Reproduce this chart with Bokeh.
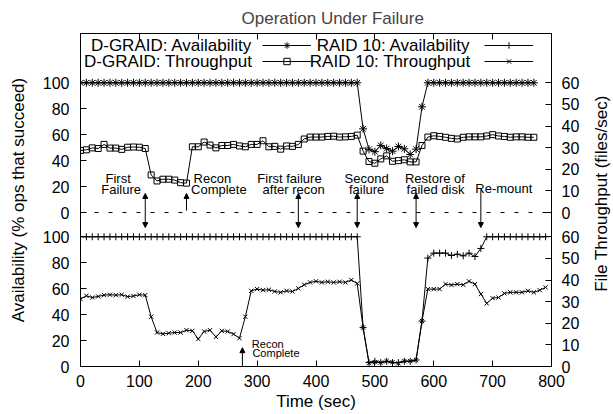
import math
from bokeh.plotting import figure
from bokeh.layouts import row
from bokeh.models import (Range1d, LinearAxis, FixedTicker, CustomJSTickFormatter,
                          Span, Arrow, NormalHead, Label, Legend, LegendItem)
from bokeh.core.properties import value
from bokeh.embed import file_html
from bokeh.resources import INLINE

# ---------------- data ----------------
time_dgraid = [0, 10, 20, 30, 40, 50, 60, 70, 80, 90, 100, 110, 120, 130, 140, 150, 160, 170, 180, 190,
               200, 210, 220, 230, 240, 250, 260, 270, 280, 290, 300, 310, 320, 330, 340, 350, 360, 370, 380, 390,
               400, 410, 420, 430, 440, 450, 460, 470, 480, 490, 500, 510, 520, 530, 540, 550, 560, 570, 580, 590,
               600, 610, 620, 630, 640, 650, 660, 670, 680, 690, 700, 710, 720, 730, 740, 750, 760, 770]
dgraid_availability = [100, 100, 100, 100, 100, 100, 100, 100, 100, 100, 100, 100, 100, 100, 100, 100, 100, 100, 100, 100,
                       100, 100, 100, 100, 100, 100, 100, 100, 100, 100, 100, 100, 100, 100, 100, 100, 100, 100, 100, 100,
                       100, 100, 100, 100, 100, 100, 100, 100, 64.5, 48.7, 46.9, 51.7, 49.3, 47.3, 50.9, 49.1, 44.7, 48.8, 81.5, 100,
                       100, 100, 100, 100, 100, 100, 100, 100, 100, 100, 100, 100, 100, 100, 100, 100, 100, 100]
dgraid_throughput = [28.7, 29.0, 29.9, 29.6, 31.5, 29.8, 29.8, 29.2, 30.2, 30.3, 30.2, 29.6, 17.4, 14.6, 15.4, 15.4, 15.0, 13.8, 13.6, 30.4,
                     30.4, 32.6, 31.2, 29.9, 31.0, 31.0, 31.5, 30.8, 30.4, 31.5, 31.5, 33.2, 30.4, 30.6, 29.3, 30.8, 30.6, 31.5, 34.0, 34.9,
                     34.9, 34.9, 35.2, 35.3, 34.9, 35.0, 35.2, 35.8, 28.4, 23.6, 22.8, 24.8, 26.2, 23.7, 24.0, 24.4, 23.4, 23.4, 31.0, 34.9,
                     35.5, 35.2, 34.8, 34.3, 34.0, 34.8, 35.0, 35.0, 35.0, 35.4, 36.0, 35.4, 35.2, 34.8, 35.0, 35.0, 34.8, 34.8]

time_raid10 = [0, 10, 20, 30, 40, 50, 60, 70, 80, 90, 100, 110, 120, 130, 140, 150, 160, 170, 180, 190,
               200, 210, 220, 230, 240, 250, 260, 270, 280, 290, 300, 310, 320, 330, 340, 350, 360, 370, 380, 390,
               400, 410, 420, 430, 440, 450, 460, 470, 480, 490, 500, 510, 520, 530, 540, 550, 560, 570, 580, 590,
               600, 610, 620, 630, 640, 650, 660, 670, 680, 690, 700, 710, 720, 730, 740, 750, 760, 770, 780, 790]
raid10_availability = [100, 100, 100, 100, 100, 100, 100, 100, 100, 100, 100, 100, 100, 100, 100, 100, 100, 100, 100, 100,
                       100, 100, 100, 100, 100, 100, 100, 100, 100, 100, 100, 100, 100, 100, 100, 100, 100, 100, 100, 100,
                       100, 100, 100, 100, 100, 100, 100, 100, 30, 3, 4, 3, 4, 3, 3, 4, 4, 5, 35, 83.6,
                       87.4, 87.4, 87.4, 85.6, 86.6, 85.3, 87.4, 84.8, 91, 100, 100, 100, 100, 100, 100, 100, 100, 100, 100, 100]
raid10_throughput = [31.2, 32.7, 31.9, 32.4, 33.0, 33.2, 33.0, 33.2, 32.3, 32.6, 33.2, 33.0, 23.0, 15.7, 15.1, 15.4, 15.7, 15.7, 16.8, 16.5,
                     12.7, 16.2, 16.8, 13.7, 16.5, 16.2, 15.0, 13.1, 23.0, 35.0, 35.8, 35.3, 35.5, 34.7, 34.3, 35.0, 34.7, 36.1, 37.8, 38.9,
                     39.4, 38.9, 39.2, 38.9, 39.2, 38.9, 40.0, 38.4, 18.0, 1.5, 2.0, 1.8, 2.5, 2.0, 1.5, 2.5, 2.5, 3.0, 21.0, 35.8,
                     35.8, 35.8, 38.1, 37.7, 38.1, 37.8, 39.4, 38.1, 33.5, 29.2, 31.6, 31.9, 33.8, 34.3, 34.3, 34.3, 35.0, 34.3, 35.3, 36.6]

time_ticks = [0, 100, 200, 300, 400, 500, 600, 700, 800]
availability_ticks = [0, 20, 40, 60, 80, 100]
throughput_ticks = [0, 10, 20, 30, 40, 50, 60]

# event annotations (time in sec)
event_times = [110, 180, 370, 470, 570, 680]
recon_time_raid10 = 275

# ---------------- layout constants ----------------
FONT = "Liberation Sans"
Y_MAX = 256.7     # top border, in lower-panel % units
OFF = 118.7       # where the upper panel's zero sits, in lower-panel % units
R = 0.6           # files/sec per % (right axis 0..60 vs left 0..100)

p = figure(width=591, height=414, x_range=Range1d(0, 800), y_range=Range1d(0, Y_MAX),
           output_backend="svg", toolbar_location=None,
           min_border_left=80, min_border_right=40, min_border_top=33, min_border_bottom=48,
           title="Operation Under Failure")
p.extra_y_ranges = {
    "thr": Range1d(0, Y_MAX * R),
    "ta": Range1d(-OFF, Y_MAX - OFF),
    "tt": Range1d(-OFF * R, (Y_MAX - OFF) * R),
}
p.xgrid.visible = False
p.ygrid.visible = False
p.outline_line_color = "black"
p.outline_line_width = 1
p.outline_line_alpha = 1
p.background_fill_color = "white"
p.border_fill_color = "white"

p.title.text_font = FONT
p.title.text_font_size = "17px"
p.title.text_font_style = "normal"
p.title.align = "left"
p.title.offset = 161
p.title.standoff = 12


def style_axis(ax, font_size="16px", standoff=10):
    ax.axis_line_color = None
    ax.major_tick_in = 6
    ax.major_tick_out = 0
    ax.major_tick_line_color = "black"
    ax.minor_tick_line_color = None
    ax.major_label_text_font = FONT
    ax.major_label_text_font_size = font_size
    ax.major_label_text_color = "black"
    ax.major_label_standoff = standoff
    ax.axis_label_text_font = FONT
    ax.axis_label_text_font_size = "17px"
    ax.axis_label_text_font_style = "normal"
    ax.axis_label_text_color = "black"


# bottom axis
xax = p.xaxis[0]
xax.ticker = FixedTicker(ticks=time_ticks)
xax.axis_label = "Time (sec)"
style_axis(xax, standoff=8)
xax.axis_label_standoff = 2

# top border ticks (no labels)
tax = LinearAxis(ticker=FixedTicker(ticks=time_ticks),
                 formatter=CustomJSTickFormatter(code="return '';"))
style_axis(tax, font_size="1px", standoff=0)
p.add_layout(tax, "above")

# left axis: two stacked 0..100 scales
yax = p.yaxis[0]
yax.ticker = FixedTicker(ticks=availability_ticks + [OFF + v for v in availability_ticks])
yax.formatter = CustomJSTickFormatter(args=dict(off=OFF),
                                      code="var v = tick > off - 1 ? tick - off : tick; return String(Math.round(v));")
yax.axis_label = "Availability (% ops that succeed)"
style_axis(yax, standoff=11)
yax.axis_label_standoff = 12

# right axis: two stacked 0..60 scales (its title sits in the narrow strip figure)
rax = LinearAxis(y_range_name="thr",
                 ticker=FixedTicker(ticks=throughput_ticks + [OFF * R + v for v in throughput_ticks]),
                 formatter=CustomJSTickFormatter(args=dict(off=OFF * R),
                                                 code="var v = tick > off - 1 ? tick - off : tick; return String(Math.round(v));"))
style_axis(rax, standoff=10)
p.add_layout(rax, "right")

# ---------------- series ----------------
lw = 1
l1 = p.line(time_dgraid, dgraid_availability, y_range_name="ta", line_color="black", line_width=lw)
s1 = p.scatter(time_dgraid, dgraid_availability, y_range_name="ta", marker="asterisk", size=8,
               line_color="black", line_width=1)
l2 = p.line(time_dgraid, dgraid_throughput, y_range_name="tt", line_color="black", line_width=lw)
s2 = p.scatter(time_dgraid, dgraid_throughput, y_range_name="tt", marker="square", size=6,
               line_color="black", fill_color=None, line_width=1)
l3 = p.line(time_raid10, raid10_availability, line_color="black", line_width=lw)
s3 = p.scatter(time_raid10, raid10_availability, marker="cross", size=7, line_color="black", line_width=1)
l4 = p.line(time_raid10, raid10_throughput, y_range_name="thr", line_color="black", line_width=lw)
s4 = p.scatter(time_raid10, raid10_throughput, y_range_name="thr", marker="x", size=6,
               line_color="black", line_width=1)

# dashed zero line of the upper panel
p.add_layout(Span(location=OFF, dimension="width", line_color="black", line_width=1, line_dash="4 10"))

# ---------------- event arrows ----------------
def head():
    return NormalHead(size=5, fill_color="black", line_color="black", line_width=1)

arrow_kinds = ["both", "up", "both", "both", "both", "down"]
for t, kind in zip(event_times, arrow_kinds):
    if kind == "both":
        a = Arrow(x_start=t, y_start=OFF - 11.6, x_end=t, y_end=OFF + 14.7, start=head(), end=head())
    elif kind == "up":
        a = Arrow(x_start=t, y_start=OFF + 1.5, x_end=t, y_end=OFF + 14.7, end=head())
    else:
        a = Arrow(x_start=t, y_start=OFF + 17.6, x_end=t, y_end=OFF - 11.6, end=head())
    a.line_color = "black"
    a.line_width = 1
    p.add_layout(a)

p.add_layout(Arrow(x_start=recon_time_raid10, y_start=0, x_end=recon_time_raid10, y_end=14.5,
                   end=head(), line_color="black", line_width=1))

ann = [
    ("First", 64, 26.6), ("Failure", 69, 18.1),
    ("Recon", 224, 26.6), ("Complete", 235, 18.1),
    ("First failure", 355, 26.6), ("after recon", 362, 18.1),
    ("Second", 486, 26.6), ("failure", 486, 18.1),
    ("Restore of", 602, 26.6), ("failed disk", 603, 18.1),
    ("Re-mount", 719, 18.9),
]
for txt, x, y in ann:
    p.add_layout(Label(x=x, y=OFF + y, text=txt, text_align="center", text_baseline="middle",
                       text_font=FONT, text_font_size="13px", text_color="black"))

for txt, x, y in [("Recon", 318, 17.5), ("Complete", 332, 10.3)]:
    p.add_layout(Label(x=x, y=y, text=txt, text_align="center", text_baseline="middle",
                       text_font=FONT, text_font_size="11px", text_color="black"))

# ---------------- legend (text right-aligned, sample to the right) ----------------
leg_texts = [("D-GRAID: Availability", 291.6, 247.5), ("D-GRAID: Throughput", 291.6, 235.2),
             ("RAID 10: Availability", 662.4, 247.5), ("RAID 10: Throughput", 662.4, 235.2)]
for txt, x, y in leg_texts:
    p.add_layout(Label(x=x, y=y, text=txt, text_align="right", text_baseline="middle",
                       text_font=FONT, text_font_size="17px", text_color="black"))

def make_legend(items, xloc):
    return Legend(items=items, location=(xloc, 297), orientation="vertical",
                  glyph_width=49, glyph_height=16, label_height=16, label_width=0,
                  label_standoff=0, padding=0, spacing=0, margin=0,
                  border_line_color=None, background_fill_alpha=0, label_text_font_size="1px")

leg1 = make_legend([LegendItem(label=value(""), renderers=[l1, s1]),
                    LegendItem(label=value(""), renderers=[l2, s2])], 182)
leg2 = make_legend([LegendItem(label=value(""), renderers=[l3, s3]),
                    LegendItem(label=value(""), renderers=[l4, s4])], 404)
p.add_layout(leg1)
p.add_layout(leg2)

# ---------------- narrow strip holding the right-hand axis title ----------------
strip = figure(width=22, height=414, x_range=Range1d(0, 22), y_range=Range1d(0, 414),
               output_backend="svg", toolbar_location=None, min_border=0)
strip.axis.visible = False
strip.xgrid.visible = False
strip.ygrid.visible = False
strip.outline_line_color = None
strip.background_fill_color = "white"
strip.border_fill_color = "white"
strip.text(x=[9.5], y=[215], text=["File Throughput (files/sec)"], angle=math.pi / 2,
           text_align="center", text_baseline="middle", text_font=value(FONT),
           text_font_size="17px", text_color="black")

layout = row(p, strip)
open("out.html", "w").write(file_html(layout, INLINE))
